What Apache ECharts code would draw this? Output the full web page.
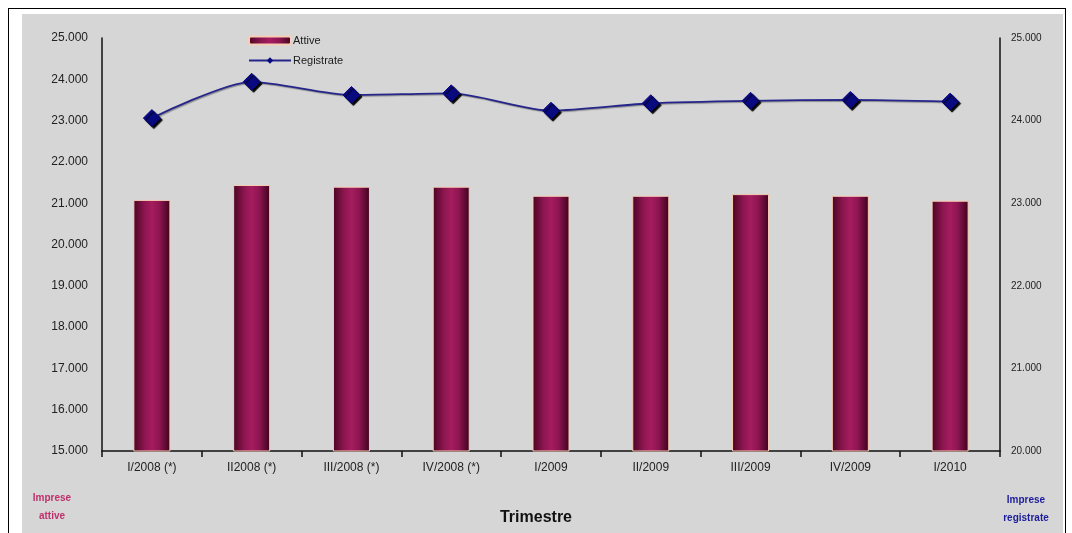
<!DOCTYPE html>
<html>
<head>
<meta charset="utf-8">
<script src="https://cdn.jsdelivr.net/npm/echarts@6/dist/echarts.min.js"></script>
<style>
  html, body { margin: 0; padding: 0; background: #ffffff; }
  #frame { position: absolute; left: 8px; top: 8px; width: 1058px; height: 540px; border: 1px solid #000; box-sizing: border-box; }
  #bg { position: absolute; left: 22px; top: 14px; width: 1041px; height: 519px; background: #d6d6d6; }
  #chart { position: absolute; left: 0; top: 0; width: 1072px; height: 533px; }
</style>
</head>
<body>
<div id="frame"></div>
<div id="bg"></div>
<div id="chart"></div>
<script>
const categories = ['I/2008 (*)', 'II2008 (*)', 'III/2008 (*)', 'IV/2008 (*)', 'I/2009', 'II/2009', 'III/2009', 'IV/2009', 'I/2010'];
const attive = [21080, 21440, 21400, 21400, 21180, 21180, 21220, 21180, 21060];
const registrate = [24030, 24470, 24310, 24330, 24120, 24210, 24240, 24250, 24230];
const leftTicks = { min: 15000, max: 25000, interval: 1000 };
const rightTicks = { min: 20000, max: 25000, interval: 1000 };

const fmt = v => {
  const s = String(Math.round(v));
  return s.length > 3 ? s.slice(0, s.length - 3) + '.' + s.slice(-3) : s;
};

const chart = echarts.init(document.getElementById('chart'), null, { renderer: 'canvas' });
const font = 'Liberation Sans, Arial, sans-serif';

chart.setOption({
  animation: false,
  textStyle: { fontFamily: font },
  grid: { left: 102, right: 72, top: 38, bottom: 82, containLabel: false },
  legend: {
    orient: 'vertical',
    left: 243,
    top: 30,
    itemWidth: 42,
    itemHeight: 8,
    itemGap: 9,
    textStyle: { fontSize: 11, color: '#1a1a1a', fontFamily: font, padding: [0, 0, 0, -3] },
    data: ['Attive', 'Registrate']
  },
  xAxis: {
    type: 'category',
    data: categories,
    boundaryGap: true,
    axisLine: { lineStyle: { color: '#111', width: 1.5 } },
    axisTick: { show: true, alignWithLabel: false, length: 6, lineStyle: { color: '#111', width: 1.5 } },
    axisLabel: { color: '#222', fontSize: 12, margin: 11, interval: 0, fontFamily: font },
    splitLine: { show: false }
  },
  yAxis: [
    {
      type: 'value',
      min: leftTicks.min, max: leftTicks.max, interval: leftTicks.interval,
      axisLine: { show: true, lineStyle: { color: '#111', width: 1.5 } },
      axisTick: { show: false },
      splitLine: { show: false },
      axisLabel: { color: '#222', fontSize: 12, margin: 14, formatter: fmt, fontFamily: font }
    },
    {
      type: 'value',
      position: 'right',
      min: rightTicks.min, max: rightTicks.max, interval: rightTicks.interval,
      axisLine: { show: true, lineStyle: { color: '#111', width: 1.5 } },
      axisTick: { show: false },
      splitLine: { show: false },
      axisLabel: { color: '#222', fontSize: 10, margin: 11, formatter: fmt, fontFamily: font }
    }
  ],
  series: [
    {
      name: 'Attive',
      type: 'bar',
      yAxisIndex: 0,
      data: attive,
      barWidth: 37,
      itemStyle: {
        color: {
          type: 'linear', x: 0, y: 0, x2: 1, y2: 0,
          colorStops: [
            { offset: 0, color: '#4a0422' },
            { offset: 0.3, color: '#8c1650' },
            { offset: 0.5, color: '#a51c5f' },
            { offset: 0.7, color: '#8e1652' },
            { offset: 1, color: '#3e021c' }
          ]
        },
        borderColor: '#f7cdb4',
        borderWidth: 1
      }
    },
    {
      name: 'Registrate',
      type: 'line',
      yAxisIndex: 1,
      data: registrate,
      smooth: 0.25,
      symbol: 'diamond',
      symbolSize: 17,
      lineStyle: { color: '#25258a', width: 1.8, shadowColor: 'rgba(0,0,0,0.35)', shadowOffsetX: 1, shadowOffsetY: 1, shadowBlur: 1 },
      itemStyle: { color: '#0a0a80', borderColor: '#0a0a80', shadowColor: '#000', shadowOffsetX: 2, shadowOffsetY: 2, shadowBlur: 1 }
    }
  ],
  graphic: [
    {
      type: 'text', left: 'center', top: 510,
      style: { text: 'Trimestre', font: 'bold 16px ' + font, fill: '#111' }
    },
    {
      type: 'text', x: 52, y: 489,
      style: { text: 'Imprese\nattive', font: 'bold 10px ' + font, fill: '#c0306c', align: 'center', verticalAlign: 'top', lineHeight: 18 }
    },
    {
      type: 'text', x: 1026, y: 491,
      style: { text: 'Imprese\nregistrate', font: 'bold 10px ' + font, fill: '#1c1c9c', align: 'center', verticalAlign: 'top', lineHeight: 18 }
    }
  ]
});
</script>
</body>
</html>
